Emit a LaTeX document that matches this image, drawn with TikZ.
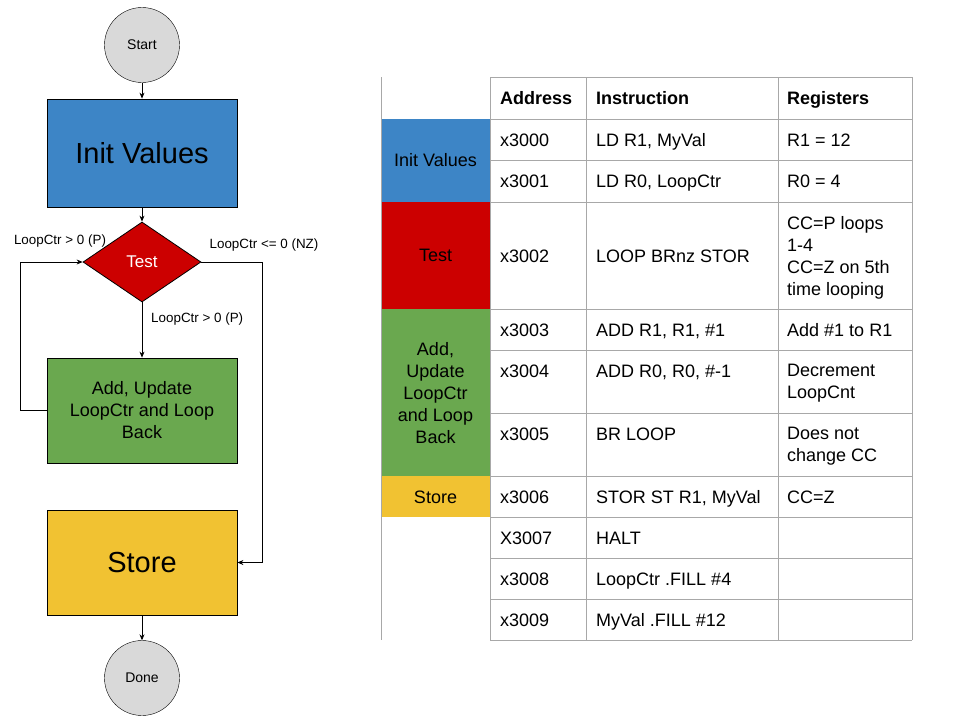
\documentclass[tikz,border=0pt]{standalone}
\usepackage{fontspec}
\setmainfont{Liberation Sans}
\usetikzlibrary{shapes.geometric,arrows.meta}
\definecolor{initblue}{HTML}{3D85C6}
\definecolor{testred}{HTML}{CC0000}
\definecolor{addgreen}{HTML}{6AA84F}
\definecolor{storeyellow}{HTML}{F1C232}
\definecolor{termgray}{HTML}{D9D9D9}
\definecolor{rulegray}{HTML}{A8A8A8}
\tikzset{
  term/.style={draw, circle, fill=termgray, minimum size=75pt, inner sep=0pt, font=\fontsize{14}{17}\selectfont},
  blk/.style={draw, line width=0.8pt, minimum width=190pt, minimum height=105pt, align=center},
  flow/.style={-{Stealth[length=6pt,width=5pt]}, line width=0.7pt},
  lbl/.style={font=\fontsize{13.4}{16}\selectfont, inner sep=0pt},
  cell/.style={anchor=west, inner sep=0pt, font=\fontsize{18}{22}\selectfont, text height=15pt, text depth=2pt},
  mcell/.style={anchor=west, inner sep=0pt, align=left, yshift=-2pt, font=\fontsize{18}{22}\selectfont},
  grp/.style={inner sep=0pt, align=center, font=\fontsize{18}{22}\selectfont},
  rule/.style={draw=rulegray, line width=1pt}
}
\begin{document}
\begin{tikzpicture}[x=1pt, y=-1pt]
\useasboundingbox (0,0) rectangle (960,720);
% flowchart
  \node[term] (start) at (142,45) {Start};
  \node[blk, fill=initblue, minimum height=108pt, font=\fontsize{29}{34}\selectfont] (init) at (142,153) {Init Values};
  \node[draw, diamond, fill=testred, line width=0.8pt, inner sep=0pt, aspect=1.475,
        minimum width=118pt, minimum height=80pt, text=white, font=\fontsize{17}{20}\selectfont] (test) at (142,262) {Test};
  \node[blk, fill=addgreen, font=\fontsize{18}{22}\selectfont] (upd) at (142,410.5) {Add, Update\\LoopCtr and Loop\\Back};
  \node[blk, fill=storeyellow, font=\fontsize{29}{34}\selectfont] (store) at (142,562.5) {Store};
  \node[term] (done) at (142,678) {Done};
% connectors
  \draw[flow] (start) -- (init);
  \draw[flow] (init) -- (test);
  \draw[flow] (test) -- (upd);
  \draw[flow] (upd.west) -- ++(-26,0) |- (test.west);
  \draw[flow] (test.east) -- ++(61,0) |- (store.east);
  \draw[flow] (store) -- (done);
  \node[lbl] (lp1) at (60,241) {LoopCtr > 0 (P)};
  \node[lbl] (lnz) at (264,245) {LoopCtr <= 0 (NZ)};
  \node[lbl, anchor=west] (lp2) at (151,319) {LoopCtr > 0 (P)};
% table, coloured groups
  \fill[initblue] (381,119) rectangle (490,202);
  \fill[testred] (381,202) rectangle (490,309);
  \fill[addgreen] (381,309) rectangle (490,476);
  \fill[storeyellow] (381,476) rectangle (490,517);
  \node[grp] (ginit) at (435.5,160.5) {Init Values};
  \node[grp] (gtest) at (435.5,255.5) {Test};
  \node[grp] (gadd) at (435.5,393) {Add,\\Update\\LoopCtr\\and Loop\\Back};
  \node[grp] (gstore) at (435.5,497) {Store};
% table, rules
  \draw[rule] (381,77) -- (381,640);
  \foreach \c in {490,586,778,912} \draw[rule] (\c,77) -- (\c,640);
  \foreach \r in {77,119,160,202,309,350,413,476,517,558,599,640} \draw[rule] (490,\r) -- (912,\r);
% table, header
  \node[cell, font=\fontsize{18}{22}\selectfont\bfseries] (hadr) at (500,98) {Address};
  \node[cell, font=\fontsize{18}{22}\selectfont\bfseries] (hins) at (596,98) {Instruction};
  \node[cell, font=\fontsize{18}{22}\selectfont\bfseries] (hreg) at (787,98) {Registers};
% table, rows
  \node[cell] (a0) at (500,139.5) {x3000};
  \node[cell] (i0) at (596,139.5) {LD R1, MyVal};
  \node[cell] (r0) at (787,139.5) {R1 = 12};
  \node[cell] (a1) at (500,181) {x3001};
  \node[cell] (i1) at (596,181) {LD R0, LoopCtr};
  \node[cell] (r1) at (787,181) {R0 = 4};
  \node[cell] (a2) at (500,255.5) {x3002};
  \node[cell] (i2) at (596,255.5) {LOOP BRnz STOR};
  \node[mcell] (r2) at (787,255.5) {CC=P loops\\1-4\\CC=Z on 5th\\time looping};
  \node[cell] (a3) at (500,329.5) {x3003};
  \node[cell] (i3) at (596,329.5) {ADD R1, R1, \#1};
  \node[cell] (r3) at (787,329.5) {Add \#1 to R1};
  \node[cell] (a4) at (500,370.5) {x3004};
  \node[cell] (i4) at (596,370.5) {ADD R0, R0, \#-1};
  \node[mcell] (r4) at (787,381.5) {Decrement\\LoopCnt};
  \node[cell] (a5) at (500,433.5) {x3005};
  \node[cell] (i5) at (596,433.5) {BR LOOP};
  \node[mcell] (r5) at (787,444.5) {Does not\\change CC};
  \node[cell] (a6) at (500,496.5) {x3006};
  \node[cell] (i6) at (596,496.5) {STOR ST R1, MyVal};
  \node[cell] (r6) at (787,496.5) {CC=Z};
  \node[cell] (a7) at (500,537.5) {X3007};
  \node[cell] (i7) at (596,537.5) {HALT};
  \node[cell] (a8) at (500,578.5) {x3008};
  \node[cell] (i8) at (596,578.5) {LoopCtr .FILL \#4};
  \node[cell] (a9) at (500,619.5) {x3009};
  \node[cell] (i9) at (596,619.5) {MyVal .FILL \#12};
\end{tikzpicture}
\end{document}
